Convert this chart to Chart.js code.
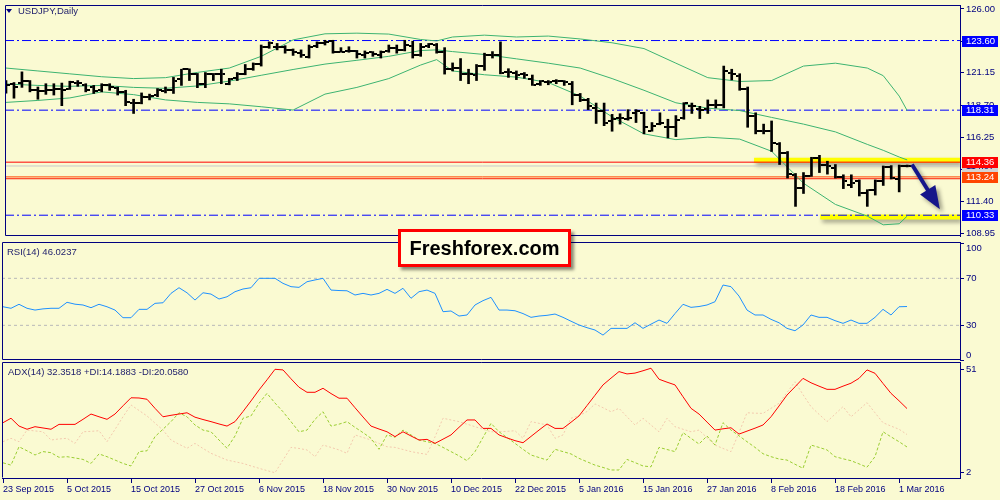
<!DOCTYPE html>
<html>
<head>
<meta charset="utf-8">
<title>USDJPY Daily</title>
<script src="https://cdn.jsdelivr.net/npm/chart.js@4.4.1/dist/chart.umd.min.js"></script>
<style>
  body { margin: 0; background: #FAFAD2; }
  #wrap { position: relative; width: 1000px; height: 500px; overflow: hidden; background: #FAFAD2;
          font-family: "Liberation Sans", Arial, sans-serif; }
  canvas { position: absolute; left: 0; }
  .caption { position: absolute; left: 7px; font-size: 9.5px; line-height: 11px; color: #1c1c6b; white-space: nowrap; }
  .tri { display: inline-block; width: 0; height: 0; border-left: 3px solid transparent; border-right: 3px solid transparent;
         border-top: 4px solid #000080; margin-right: 6px; vertical-align: 1px; }
  #brand { position: absolute; left: 398px; top: 229px; width: 173px; height: 38px; box-sizing: border-box;
           border: 3px solid #FF0000; background: #FFFFE1; box-shadow: 3px 3px 3px rgba(0,0,0,0.45);
           font: bold 20px "Liberation Sans", Arial, sans-serif; color: #000; text-align: center; line-height: 32px; }
</style>
</head>
<body>
<div id="wrap">
  <canvas id="main" width="1000" height="241" style="top:0px"></canvas>
  <canvas id="rsi" width="1000" height="120" style="top:241px"></canvas>
  <canvas id="adx" width="1000" height="139" style="top:361px"></canvas>
  <div class="caption" style="left:6px;top:4.5px"><span class="tri"></span>USDJPY,Daily</div>
  <div class="caption" style="top:245.5px">RSI(14) 46.0237</div>
  <div class="caption" style="left:8px;top:366px">ADX(14) 32.3518 +DI:14.1883 -DI:20.0580</div>
  <div id="brand">Freshforex.com</div>
</div>
<script>
// x axis: bar index, one label every 8 bars
const dateIdx = [0, 8, 16, 24, 32, 40, 48, 56, 64, 72, 80, 88, 96, 104, 112]
const dateLabels = ['23 Sep 2015', '5 Oct 2015', '15 Oct 2015', '27 Oct 2015', '6 Nov 2015', '18 Nov 2015',
  '30 Nov 2015', '10 Dec 2015', '22 Dec 2015', '5 Jan 2016', '15 Jan 2016', '27 Jan 2016', '8 Feb 2016',
  '18 Feb 2016', '1 Mar 2016']

const barOpen = [
  120.26,120.32,120.41,120.49,119.87,119.75,119.87,119.90,119.95,120.37,
  120.19,120.07,119.82,120.19,120.02,119.70,118.89,118.85,119.33,119.46,
  119.77,119.87,120.68,121.42,121.05,120.32,121.05,121.05,120.32,120.73,
  121.05,121.42,121.78,123.13,123.13,123.13,122.89,122.64,122.32,123.21,
  123.38,123.55,122.76,122.81,122.81,122.52,122.71,122.52,122.81,123.01,
  122.89,123.21,122.52,123.21,123.26,122.76,121.42,121.54,121.05,121.00,
  121.66,122.47,122.47,121.22,121.12,121.05,120.68,120.32,120.44,120.49,
  120.49,120.32,119.46,119.09,118.48,118.23,117.49,117.74,117.62,118.11,
  118.11,116.76,117.25,117.03,117.00,117.74,118.60,118.40,118.40,118.72,
  118.72,121.17,120.93,119.95,117.86,116.76,116.76,115.71,115.04,113.40,
  112.42,113.33,114.68,114.14,113.94,113.21,112.59,112.91,112.03,112.23,
  112.96,113.99,113.08,114.07]
const barHigh = [
  120.56,120.41,121.22,120.56,120.07,120.32,120.32,120.37,120.51,120.56,
  120.32,120.19,120.32,120.32,120.07,119.82,119.14,119.62,119.53,119.95,
  120.07,120.80,121.42,121.45,121.10,121.17,121.10,121.42,120.73,121.17,
  121.78,121.90,123.26,123.50,123.38,123.21,122.96,122.89,123.26,123.50,
  123.62,123.62,123.06,123.13,122.85,122.81,122.76,122.81,123.26,123.26,
  123.62,123.55,123.38,123.38,123.38,123.06,121.90,122.23,121.42,121.78,
  122.64,122.76,123.50,121.46,121.29,121.17,120.98,120.56,120.56,120.63,
  120.56,120.49,119.58,119.21,118.85,118.85,117.99,118.04,118.35,118.35,
  118.15,117.37,118.11,117.62,117.90,118.88,118.85,118.60,119.09,119.09,
  121.66,121.42,121.08,120.07,118.11,117.25,117.49,115.85,115.17,113.50,
  113.57,114.73,114.88,114.43,114.18,113.40,113.40,113.01,112.27,113.01,
  114.07,114.10,114.14,114.14]
const barLow = [
  119.60,119.22,120.04,119.70,119.14,119.51,119.46,118.65,119.88,120.12,
  119.70,119.58,119.70,119.82,119.46,118.65,118.06,118.79,119.09,119.33,
  119.62,119.58,120.19,120.56,120.02,120.02,120.56,120.32,120.24,120.56,
  121.00,121.34,121.66,123.01,122.89,122.64,122.47,122.32,122.27,123.06,
  123.26,122.64,122.71,122.71,122.27,122.27,122.40,122.27,122.71,122.64,
  122.81,122.27,122.40,123.06,122.64,121.05,121.29,120.56,120.32,120.56,
  121.34,122.27,121.07,120.80,120.63,120.73,120.19,120.19,120.24,120.32,
  120.19,118.72,118.96,118.35,117.30,117.13,116.71,117.25,117.55,117.37,
  116.51,116.71,117.20,116.20,116.30,117.62,118.06,117.67,118.06,118.48,
  118.48,120.61,119.82,117.01,116.51,116.51,115.17,114.18,113.15,111.00,
  111.98,113.28,113.57,113.45,113.15,112.35,112.42,111.79,111.00,111.86,
  112.59,113.08,112.10,114.00]
const barClose = [
  120.19,120.07,120.56,119.87,119.77,119.82,119.90,119.87,120.45,120.35,
  119.88,119.77,120.19,120.07,119.70,118.96,118.89,119.33,119.38,119.82,
  119.87,120.56,121.42,121.05,120.32,121.05,121.02,121.05,120.68,121.05,
  121.42,121.78,123.13,123.38,123.13,122.89,122.71,122.52,123.13,123.38,
  123.50,122.76,122.76,122.81,122.57,122.64,122.57,122.71,123.06,122.89,
  123.26,122.52,123.13,123.30,122.71,121.42,121.49,121.05,121.02,121.66,
  122.52,122.47,121.17,121.22,120.98,120.98,120.24,120.49,120.44,120.49,
  120.44,119.46,119.09,118.60,118.23,117.37,117.62,117.74,117.74,118.28,
  117.05,117.13,117.37,117.03,117.60,118.85,118.60,118.35,118.72,118.72,
  121.29,121.05,119.95,117.86,116.76,116.76,115.78,115.04,113.45,112.42,
  113.33,114.68,114.14,114.07,113.21,112.96,112.76,112.03,112.23,112.96,
  113.99,113.15,114.07,114.07]

// Bollinger bands at these bars
const bandIdx = [0,4,8,12,16,20,24,28,32,36,40,44,48,52,54,56,60,64,68,72,76,80,84,88,92,96,100,104,108,110,112,113]
const bandUpper = [121.51,121.29,121.07,120.85,120.71,120.78,121.18,121.51,122.40,123.65,124.11,124.16,124.09,123.68,123.57,123.87,
  124.01,123.87,123.94,123.72,123.43,122.99,121.88,120.78,120.49,120.56,121.66,121.88,121.51,120.93,119.38,118.28]
const bandMiddle = [120.30,120.19,120.12,120.19,120.04,119.97,120.15,120.52,120.96,121.40,121.81,122.10,122.40,122.84,122.89,122.76,
  122.54,122.21,121.88,121.51,120.71,119.82,118.87,118.46,118.28,117.76,117.25,116.66,115.71,115.26,114.75,114.53]
const bandLower = [118.90,119.05,119.24,119.70,119.49,119.09,118.90,118.79,118.57,118.32,119.53,120.04,120.71,121.74,122.15,121.29,
  121.00,120.82,120.41,119.38,117.80,116.51,116.07,116.26,116.11,115.19,112.76,111.15,110.26,109.60,109.68,110.26]

const blueLevels = [123.60, 118.31, 110.33]
const redLevels = [114.36]
const orangeLevels = [113.24, 113.10]
const bidLevel = 114.07
const highlightLines = [[93.8, 114.50], [102.1, 110.19]]   // [start bar, price]
const arrowPath = [[113.6, 114.18], [117.1, 110.78]]
const priceTicks = [126.00, 123.55, 121.15, 118.70, 116.25, 113.80, 111.40, 108.95]

const rsi = [
  45.8,44.5,47.9,44.5,43.0,44.0,44.5,44.5,49.6,48.0,
  47.3,45.0,47.9,45.8,43.0,36.5,36.5,43.6,43.6,48.7,
  49.2,57.2,62.0,57.7,51.5,57.7,56.6,52.4,54.3,58.6,
  60.9,62.0,70.0,70.0,70.0,65.7,62.9,62.3,67.1,68.6,
  70.0,60.0,59.6,59.4,55.8,57.2,55.8,57.2,60.6,57.2,
  61.5,53.0,58.6,60.0,57.2,41.6,42.2,37.9,38.8,47.3,
  51.0,53.8,43.0,43.0,42.4,40.0,36.8,37.9,38.5,39.6,
  36.8,33.5,30.3,28.0,26.0,21.7,27.4,27.4,27.4,32.2,
  27.4,31.0,34.5,31.7,40.0,47.9,45.3,46.0,47.3,50.1,
  64.3,62.9,54.9,43.0,38.8,38.8,35.1,32.2,27.4,25.4,
  30.3,38.8,36.8,36.8,34.0,31.7,34.5,31.7,31.7,36.8,
  43.6,38.8,45.8,46.0]
const rsiLevels = [70, 30]
const rsiTicks = [100, 70, 30, 0]

const adx = [
  25.7,27.8,24.1,22.6,23.8,23.2,22.6,24.9,24.9,24.9,
  27.3,29.8,28.5,27.3,29.8,33.7,37.5,37.4,36.8,32.5,
  28.5,29.2,29.8,30.4,28.3,27.2,26.2,25.1,24.1,26.2,
  31.0,36.0,41.2,46.0,51.0,50.7,46.5,42.5,40.1,40.1,
  42.0,39.5,37.3,37.3,32.8,28.4,24.1,22.7,21.4,19.1,
  21.4,19.4,17.5,17.8,15.9,17.9,19.9,23.5,27.0,27.0,
  23.0,23.0,19.9,18.5,17.2,16.2,19.2,22.2,25.1,23.0,
  23.0,25.9,28.9,33.8,38.7,43.6,46.8,49.9,48.8,49.2,
  50.3,51.5,46.3,44.9,43.6,38.0,32.5,29.8,26.0,22.2,
  22.8,23.3,20.3,21.7,23.1,24.6,28.5,33.6,38.8,42.7,
  46.7,44.6,43.0,41.5,41.5,43.0,44.4,46.7,50.7,49.1,
  44.3,39.6,36.1,32.4]
const plusDI = [
  6.7,5.6,14.3,12.4,10.4,12.0,11.5,9.3,9.6,9.0,
  8.3,6.4,10.9,9.6,8.0,6.4,5.2,12.0,12.4,19.1,
  22.6,26.2,30.4,28.5,24.6,22.2,21.4,17.5,13.6,19.4,
  27.8,28.9,34.9,39.6,35.0,30.9,26.2,21.4,22.2,27.3,
  30.9,24.1,25.0,26.2,23.5,21.0,18.3,13.1,19.9,18.8,
  22.2,19.9,17.5,16.7,15.9,14.0,12.0,10.0,7.7,12.0,
  18.7,25.4,21.4,18.7,15.9,13.1,10.4,9.2,8.0,13.1,
  12.0,10.9,8.8,7.2,5.6,4.5,3.3,3.3,8.3,6.8,
  5.2,4.8,14.0,13.0,12.0,21.0,18.3,15.6,19.4,15.1,
  25.7,22.2,19.5,16.7,14.0,11.0,9.6,8.5,8.0,6.0,
  4.1,15.1,14.0,12.8,9.6,8.6,7.7,6.2,4.6,9.6,
  21.4,19.0,16.7,14.2]
const minusDI = [
  16.7,18.3,16.7,22.2,21.8,21.4,17.5,18.0,18.3,15.9,
  21.4,21.6,21.9,16.7,22.5,28.5,34.1,31.5,28.9,25.5,
  22.2,17.5,15.5,13.6,15.9,13.5,11.2,9.6,8.0,7.2,
  6.4,5.2,4.1,3.0,2.0,8.0,14.0,13.5,12.8,9.6,
  15.1,14.0,12.8,11.2,19.9,18.7,17.5,15.9,14.3,14.0,
  13.0,12.0,11.3,10.7,19.0,27.8,27.0,26.2,25.0,23.8,
  22.6,21.4,21.4,21.6,21.9,18.3,26.2,25.4,24.6,18.3,
  19.9,27.8,29.0,31.0,34.6,32.8,30.9,32.5,28.5,24.6,
  27.8,24.6,21.4,27.8,23.8,22.6,21.4,22.2,18.6,15.1,
  13.5,12.0,21.0,30.4,30.2,30.1,32.5,34.9,40.0,45.1,
  39.0,33.3,29.7,26.2,29.7,33.3,28.5,31.8,35.2,30.4,
  25.7,24.1,22.6,20.1]
const adxTicks = [51, 2]

const NAVY = '#000080'
const FONT_FAMILY = '"Liberation Sans", Arial, sans-serif'
const AXIS_FONT = { family: FONT_FAMILY, size: 9.5 }
const DATE_FONT = { family: FONT_FAMILY, size: 9 }
const X_MIN = -0.125
const X_MAX = 119.625

const series = arr => arr.map((v, i) => ({ x: i, y: v }))
const hline = v => [{ x: X_MIN, y: v }, { x: X_MAX, y: v }]
const lineDs = (data, color, extra = {}) => ({
  type: 'line', data, borderColor: color, borderWidth: 1, pointRadius: 0, fill: false, tension: 0, ...extra
})

// open / close tick marks, used as point images
function makeTick(side) {
  const c = document.createElement('canvas')
  c.width = 8
  c.height = 2
  const g = c.getContext('2d')
  g.fillStyle = '#000'
  g.fillRect(side === 'left' ? 0 : 5, 0, 3, 2)
  return c
}

function xAxis(show) {
  return {
    type: 'linear', min: X_MIN, max: X_MAX, display: show, offset: false,
    afterFit: s => {
      if (show) s.height = 22
      s.paddingLeft = 0
      s.paddingRight = 0
    },
    afterBuildTicks: s => { s.ticks = dateIdx.map(v => ({ value: v })) },
    border: { display: true, color: NAVY },
    grid: { drawOnChartArea: false, tickLength: 5, color: NAVY, offset: false },
    ticks: { align: 'start', autoSkip: false, maxRotation: 0, padding: 1, color: NAVY, font: DATE_FONT,
      callback: (v, i) => dateLabels[i] }
  }
}

function yAxis(min, max, values, fmt) {
  return {
    position: 'right', min, max,
    afterFit: s => { s.width = 40; s.paddingTop = 0; s.paddingBottom = 0 },
    afterBuildTicks: s => { s.ticks = values.map(v => ({ value: v })) },
    border: { display: true, color: NAVY },
    grid: { drawOnChartArea: false, tickLength: 4, color: NAVY },
    ticks: { autoSkip: false, padding: 2, color: NAVY, font: AXIS_FONT, callback: fmt }
  }
}

function panelOptions(padding, showX, y, frame = {}) {
  return {
    responsive: false, animation: false, events: [],
    layout: { padding },
    plugins: { legend: { display: false }, tooltip: { enabled: false }, frame },
    scales: { x: xAxis(showX), y }
  }
}

const framePlugin = {
  id: 'frame',
  afterDraw(chart, args, opts) {
    const { left, top, right, bottom } = chart.chartArea
    const ctx = chart.ctx
    ctx.save()
    ctx.strokeStyle = NAVY
    ctx.lineWidth = 1
    ctx.beginPath()
    ctx.moveTo(right, top + 0.5)
    ctx.lineTo(left + 0.5, top + 0.5)
    ctx.lineTo(left + 0.5, bottom - 0.5)
    if (!opts.noBottom) ctx.lineTo(right, bottom - 0.5)
    ctx.stroke()
    ctx.restore()
  }
}

const shadowPlugin = {
  id: 'dsShadow',
  beforeDatasetDraw(chart, args) {
    if (!chart.data.datasets[args.index].shadow) return
    const ctx = chart.ctx
    ctx.save()
    ctx.shadowColor = 'rgba(0,0,0,0.35)'
    ctx.shadowBlur = 4
    ctx.shadowOffsetX = 2
    ctx.shadowOffsetY = 3
  },
  afterDatasetDraw(chart, args) {
    if (chart.data.datasets[args.index].shadow) chart.ctx.restore()
  }
}

const arrowPlugin = {
  id: 'arrow',
  afterDatasetsDraw(chart) {
    const { x, y } = chart.scales
    const ctx = chart.ctx
    const x0 = x.getPixelForValue(arrowPath[0][0]), y0 = y.getPixelForValue(arrowPath[0][1])
    const x1 = x.getPixelForValue(arrowPath[1][0]), y1 = y.getPixelForValue(arrowPath[1][1])
    const ang = Math.atan2(y1 - y0, x1 - x0)
    const head = 23, half = 9
    const bx = x1 - head * Math.cos(ang), by = y1 - head * Math.sin(ang)
    ctx.save()
    ctx.shadowColor = 'rgba(0,0,0,0.4)'
    ctx.shadowBlur = 4
    ctx.shadowOffsetX = 3
    ctx.shadowOffsetY = 3
    ctx.strokeStyle = ctx.fillStyle = '#16168a'
    ctx.lineWidth = 4
    ctx.beginPath()
    ctx.moveTo(x0, y0)
    ctx.lineTo(bx + 2 * Math.cos(ang), by + 2 * Math.sin(ang))
    ctx.stroke()
    ctx.beginPath()
    ctx.moveTo(x1, y1)
    ctx.lineTo(bx + half * Math.sin(ang), by - half * Math.cos(ang))
    ctx.lineTo(bx - half * Math.sin(ang), by + half * Math.cos(ang))
    ctx.closePath()
    ctx.fill()
    ctx.restore()
  }
}

// coloured price tags on the right axis
const axisTagPlugin = {
  id: 'axisTags',
  afterDraw(chart) {
    const y = chart.scales.y
    const ctx = chart.ctx
    const x0 = chart.chartArea.right + 2
    const tags = [
      [bidLevel, '#D3D3D3', NAVY],
      ...blueLevels.map(v => [v, '#0000FF', '#FFFFFF']),
      ...redLevels.map(v => [v, '#FF0000', '#FFFFFF']),
      [orangeLevels[0], '#FF4500', '#FFFFFF']
    ]
    ctx.save()
    ctx.font = '9.5px ' + FONT_FAMILY
    ctx.textBaseline = 'middle'
    tags.forEach(([v, bg, fg]) => {
      const py = Math.round(y.getPixelForValue(v))
      ctx.fillStyle = bg
      ctx.fillRect(x0, py - 5, 36, 11)
      ctx.fillStyle = fg
      ctx.fillText(v.toFixed(2), x0 + 4, py + 0.5)
    })
    ctx.restore()
  }
}

const mainDatasets = [
  ...highlightLines.map(([from, v]) => lineDs([{ x: from, y: v }, { x: X_MAX, y: v }], '#FFFF00',
    { borderWidth: 5, order: 10, shadow: true })),
  lineDs(hline(bidLevel), '#C8C8C8', { order: 9 }),
  ...blueLevels.map(v => lineDs(hline(v), '#0000FF', { borderDash: [9, 3, 2, 3], order: 8 })),
  ...redLevels.map(v => lineDs(hline(v), '#FF0000', { order: 8 })),
  ...orangeLevels.map((v, k) => lineDs(hline(v), k === 0 ? '#FF4500' : '#FF1a00', { order: 8 })),
  ...[bandUpper, bandMiddle, bandLower].map(b =>
    lineDs(b.map((v, k) => ({ x: bandIdx[k], y: v })), '#3CB371', { order: 6 })),
  {
    type: 'bar', order: 2, grouped: false, barThickness: 2, backgroundColor: '#000',
    data: barHigh.map((h, i) => ({ x: i, y: [barLow[i], h] }))
  },
  lineDs(series(barOpen), 'transparent', { showLine: false, pointRadius: 3, pointStyle: makeTick('left'), order: 1 }),
  lineDs(series(barClose), 'transparent', { showLine: false, pointRadius: 3, pointStyle: makeTick('right'), order: 1 })
]

new Chart(document.getElementById('main'), {
  type: 'line',
  data: { datasets: mainDatasets },
  options: panelOptions({ top: 2, left: 2, right: 0, bottom: 1 }, false,
    yAxis(108.75, 126.3, priceTicks, v => v.toFixed(2))),
  plugins: [shadowPlugin, framePlugin, arrowPlugin, axisTagPlugin]
})

new Chart(document.getElementById('rsi'), {
  type: 'line',
  data: {
    datasets: [
      ...rsiLevels.map(v => lineDs(hline(v), '#B8B8B8', { borderDash: [3, 3], order: 5 })),
      lineDs(series(rsi), '#1E90FF', { order: 1 })
    ]
  },
  options: panelOptions({ top: 1, left: 2, right: 0, bottom: 1 }, false,
    yAxis(0.5, 100.9, rsiTicks, v => v === 100 ? ['', '100'] : v === 0 ? ['0', ''] : String(v))),
  plugins: [framePlugin]
})

new Chart(document.getElementById('adx'), {
  type: 'line',
  data: {
    datasets: [
      lineDs(series(minusDI), '#F3C9AE', { borderDash: [2, 2], order: 3 }),
      lineDs(series(plusDI), '#9ACD32', { borderDash: [3, 2], order: 2 }),
      lineDs(series(adx), '#FF0000', { order: 1 })
    ]
  },
  options: panelOptions({ top: 1, left: 2, right: 0, bottom: 0 }, true,
    yAxis(-0.5, 54.45, adxTicks, v => String(v)), { noBottom: true }),
  plugins: [framePlugin]
})
</script>
</body>
</html>
